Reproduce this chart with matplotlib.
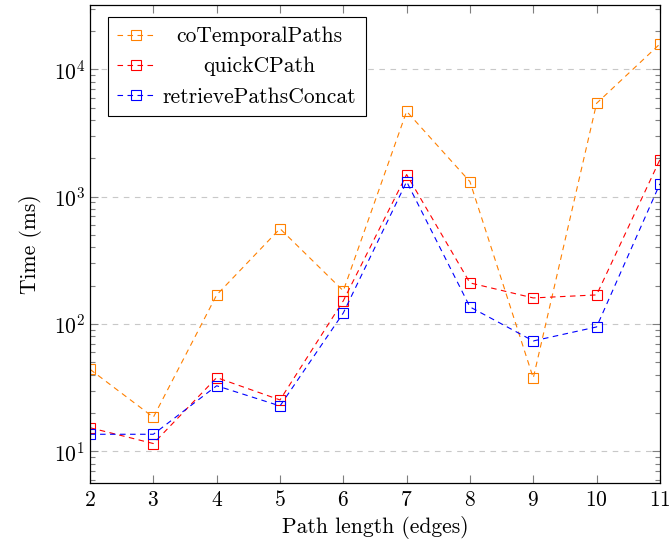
import matplotlib
matplotlib.use('Agg')
import matplotlib.pyplot as plt
from matplotlib.ticker import LogLocator, NullFormatter

# data
path_len = [2, 3, 4, 5, 6, 7, 8, 9, 10, 11]
co_temporal = [44, 18.5, 169, 560, 182, 4670, 1310, 37.6, 5400, 15800]
quick_cpath = [15.3, 11.5, 37.9, 25.3, 152, 1490, 210, 160, 169, 1950]
retrieve_concat = [13.6, 13.6, 32.7, 22.7, 122, 1310, 136, 73.5, 94.7, 1260]

plt.rcParams['font.family'] = 'serif'
plt.rcParams['font.serif'] = ['cmr10']
plt.rcParams['mathtext.fontset'] = 'cm'
plt.rcParams['axes.formatter.use_mathtext'] = True
plt.rcParams['axes.unicode_minus'] = False

fs = 15.5

fig = plt.figure(figsize=(6.72, 5.48), dpi=100)
ax = fig.add_axes([0.134, 0.118, 0.848, 0.873])

ax.plot(path_len, co_temporal, color=(1, 0.5, 0), linestyle='--', linewidth=0.8,
        marker='s', markersize=7, markerfacecolor='none', markeredgewidth=0.8,
        dashes=(5, 4), label='coTemporalPaths')
ax.plot(path_len, quick_cpath, color='red', linestyle='--', linewidth=0.8,
        marker='s', markersize=7, markerfacecolor='none', markeredgewidth=0.8,
        dashes=(5, 4), label='quickCPath')
ax.plot(path_len, retrieve_concat, color='blue', linestyle='--', linewidth=0.8,
        marker='s', markersize=7, markerfacecolor='none', markeredgewidth=0.8,
        dashes=(5, 4), label='retrievePathsConcat')

ax.set_yscale('log')
ax.set_xlim(2, 11)
ax.set_ylim(5.6, 32000)
ax.set_xticks(path_len)

ax.yaxis.set_major_locator(LogLocator(base=10, numticks=10))
ax.yaxis.set_minor_locator(LogLocator(base=10, subs=range(2, 10), numticks=20))
ax.yaxis.set_minor_formatter(NullFormatter())

ax.tick_params(axis='both', which='both', direction='in', top=True, right=True,
               labelsize=fs, color='#7f7f7f')
ax.tick_params(axis='both', which='major', length=6, width=0.8)
ax.tick_params(axis='y', which='minor', length=3.5, width=0.8)
ax.tick_params(axis='x', which='minor', length=0)
ax.tick_params(axis='x', pad=5)

ax.grid(axis='y', which='major', linestyle=(0, (5, 5)), color='#c8c8c8', linewidth=0.8)
ax.set_axisbelow(True)
for s in ax.spines.values():
    s.set_linewidth(0.9)

ax.set_xlabel('Path length (edges)', fontsize=fs, labelpad=4)
ax.set_ylabel('Time (ms)', fontsize=fs, labelpad=8)

leg = ax.legend(loc='upper left', bbox_to_anchor=(0.031, 0.975), fontsize=fs,
                fancybox=False, edgecolor='black', framealpha=1,
                handlelength=1.7, handletextpad=0.4, borderpad=0.45,
                labelspacing=0.5, borderaxespad=0)
leg.get_frame().set_linewidth(0.8)

# centre the legend entries like pgfplots does
fig.canvas.draw()
texts = leg.get_texts()
widths = [t.get_window_extent().width for t in texts]
wmax = max(widths)
for t, w in zip(texts, widths):
    t.set_x((wmax - w) / 2)

plt.savefig('out.png', dpi=100)
